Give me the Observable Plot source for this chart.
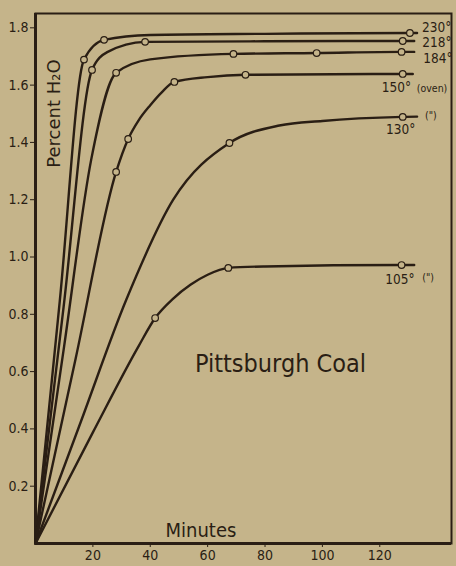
<!DOCTYPE html>
<html>
<head>
<meta charset="utf-8">
<script src="https://cdn.jsdelivr.net/npm/d3@7"></script>
<script src="https://cdn.jsdelivr.net/npm/@observablehq/plot@0.6"></script>
<style>
  html, body { margin: 0; padding: 0; background: #c5b48a; }
  #chart { width: 456px; height: 566px; }
</style>
</head>
<body>
<div id="chart"></div>
<script>
// ---- data (minutes vs percent H2O) ----
const seriesNames = ["230°", "218°", "184°", "150°", "130°", "105°"];

// smooth curve through each series
const curveMin230 = [0, 8.45, 16.9, 23.9, 40, 80, 130.5, 133];
const curvePct230 = [0, 0.845, 1.689, 1.758, 1.775, 1.779, 1.782, 1.782];
const curveMin218 = [0, 9.8, 19.7, 25, 38.2, 80, 128, 132];
const curvePct218 = [0, 0.826, 1.653, 1.715, 1.751, 1.753, 1.754, 1.754];
const curveMin184 = [0, 10, 19.4, 28.1, 40, 69, 98, 127.6, 132];
const curvePct184 = [0, 0.69, 1.339, 1.643, 1.69, 1.709, 1.712, 1.716, 1.716];
const curveMin150 = [0, 14, 28.1, 32.3, 36, 40, 44, 48.4, 60, 73.2, 128, 131.5];
const curvePct150 = [0, 0.646, 1.297, 1.412, 1.478, 1.53, 1.575, 1.611, 1.628, 1.636, 1.639, 1.639];
const curveMin130 = [0, 15.8, 31.6, 48, 67.6, 85, 100, 128, 133];
const curvePct130 = [0, 0.425, 0.85, 1.2, 1.398, 1.459, 1.475, 1.489, 1.49];
const curveMin105 = [0, 20, 36, 41.7, 48, 54, 60, 67.2, 80, 127.6, 132];
const curvePct105 = [0, 0.388, 0.69, 0.787, 0.855, 0.903, 0.938, 0.962, 0.967, 0.972, 0.972];

// observed points (open circles)
const obsMin230 = [16.9, 23.9, 130.5];
const obsPct230 = [1.689, 1.758, 1.782];
const obsMin218 = [19.7, 38.2, 128];
const obsPct218 = [1.653, 1.751, 1.754];
const obsMin184 = [28.1, 69, 98, 127.6];
const obsPct184 = [1.643, 1.709, 1.712, 1.716];
const obsMin150 = [28.1, 32.3, 48.4, 73.2, 128];
const obsPct150 = [1.297, 1.412, 1.611, 1.636, 1.639];
const obsMin130 = [67.6, 128];
const obsPct130 = [1.398, 1.489];
const obsMin105 = [41.7, 67.2, 127.6];
const obsPct105 = [0.787, 0.962, 0.972];

// notes written next to some series
const noteSeries = ["150°", "130°", "105°"];
const noteTexts = ["(oven)", "(\")", "(\")"];

// axes
const xTicks = [20, 40, 60, 80, 100, 120];
const yTicks = [0.2, 0.4, 0.6, 0.8, 1.0, 1.2, 1.4, 1.6, 1.8];
const yTickLabels = ["0.2", "0.4", "0.6", "0.8", "1.0", "1.2", "1.4", "1.6", "1.8"];
const titleText = "Pittsburgh Coal";
const xLabel = "Minutes";
const yLabel = "Percent H₂O";

// ---- build tables ----
const curveMins = [curveMin230, curveMin218, curveMin184, curveMin150, curveMin130, curveMin105];
const curvePcts = [curvePct230, curvePct218, curvePct184, curvePct150, curvePct130, curvePct105];
const obsMins = [obsMin230, obsMin218, obsMin184, obsMin150, obsMin130, obsMin105];
const obsPcts = [obsPct230, obsPct218, obsPct184, obsPct150, obsPct130, obsPct105];

const curveRows = [];
const obsRows = [];
const endRows = [];
seriesNames.forEach((s, i) => {
  curveMins[i].forEach((m, j) => curveRows.push({series: s, minutes: m, pct: curvePcts[i][j]}));
  obsMins[i].forEach((m, j) => obsRows.push({series: s, minutes: m, pct: obsPcts[i][j]}));
  const n = curveMins[i].length - 1;
  endRows.push({series: s, minutes: curveMins[i][n], pct: curvePcts[i][n]});
});

// ---- style ----
const bg = "#c5b48a";
const ink = "#2a1e14";
const font = "'DejaVu Sans Condensed', 'Liberation Sans Narrow', 'Liberation Sans', sans-serif";
const wideFont = "'DejaVu Sans', 'Liberation Sans', sans-serif";

// label offsets (pixels) from the end of each curve
const labelOffsets = {
  "230°": [5, -5], "218°": [8, 2], "184°": [9, 7],
  "150°": [-31, 14], "130°": [-31, 13], "105°": [-29, 15]
};
const noteOffsets = {"150°": [4, 15], "130°": [8, -1], "105°": [8, 13]};

const labelMarks = endRows.map(d => Plot.text([d], {
  x: "minutes", y: "pct", text: "series",
  dx: labelOffsets[d.series][0], dy: labelOffsets[d.series][1],
  textAnchor: "start", fontSize: 13.5, fill: ink
}));
const noteMarks = noteSeries.map((s, k) => {
  const d = endRows.find(r => r.series === s);
  return Plot.text([{...d, note: noteTexts[k]}], {
    x: "minutes", y: "pct", text: "note",
    dx: noteOffsets[s][0], dy: noteOffsets[s][1],
    textAnchor: "start", fontSize: 10.5, fill: ink
  });
});

const chart = Plot.plot({
  width: 456,
  height: 566,
  marginLeft: 35,
  marginTop: 13,
  marginRight: 5,
  marginBottom: 23,
  style: {background: bg, color: ink, fontFamily: font, fontSize: "14px"},
  x: {domain: [0, 145], ticks: xTicks, tickSize: 4, tickPadding: 3, label: null, tickFormat: d => String(d)},
  y: {domain: [0, 1.85], ticks: yTicks, tickSize: 5, tickPadding: 2, label: null,
      tickFormat: d => yTickLabels[yTicks.indexOf(d)]},
  marks: [
    Plot.frame({stroke: ink, strokeWidth: 2}),
    Plot.ruleX([0], {stroke: ink, strokeWidth: 3}),
    Plot.ruleY([0], {stroke: ink, strokeWidth: 3}),
    Plot.line(curveRows, {x: "minutes", y: "pct", z: "series", curve: "monotone-x",
      stroke: ink, strokeWidth: 2.4}),
    Plot.dot(obsRows, {x: "minutes", y: "pct", r: 3.3, fill: bg, stroke: ink, strokeWidth: 1.2}),
    ...labelMarks,
    ...noteMarks,
    Plot.text([titleText], {frameAnchor: "middle", dx: 37, dy: 85, fontSize: 25, fill: ink}),
    Plot.text([xLabel], {frameAnchor: "bottom-left", dx: 130, dy: -7, textAnchor: "start", fontSize: 20, fill: ink}),
    Plot.text([yLabel], {frameAnchor: "top-left", dx: 12, dy: 100, rotate: -90, textAnchor: "middle",
      fontSize: 18, fontFamily: wideFont, fill: ink})
  ]
});
document.getElementById("chart").appendChild(chart);
</script>
</body>
</html>
